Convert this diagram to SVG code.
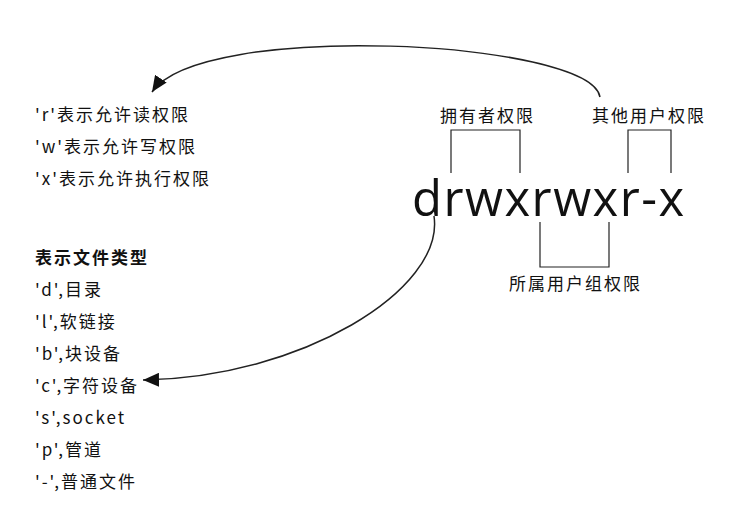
<svg xmlns="http://www.w3.org/2000/svg" width="741" height="521" viewBox="0 0 741 521">
<style>
.t{font-family:"Noto Sans CJK SC","Noto Sans",sans-serif;font-size:17px;letter-spacing:2px;fill:#111}
.b{font-weight:bold}
.big{font-family:"Open Sans","Noto Sans",sans-serif;font-size:49px;letter-spacing:1.5px;fill:#111}
.br{fill:none;stroke:#222;stroke-width:1.2}
.c{fill:none;stroke:#222;stroke-width:1.5}
</style>
<defs>
<marker id="ah" markerUnits="userSpaceOnUse" markerWidth="18" markerHeight="14" refX="16" refY="7" orient="auto">
<path d="M0,0 L16,7 L0,14 Z" fill="#111"/>
</marker>
</defs>
<rect width="741" height="521" fill="#fff"/>
<g id="perm-legend">
<text class="t" x="35" y="121">'r'表示允许读权限</text>
<text class="t" x="35" y="153">'w'表示允许写权限</text>
<text class="t" x="35" y="185">'x'表示允许执行权限</text>
</g>
<g id="type-legend">
<text class="t b" x="35" y="264">表示文件类型</text>
<text class="t" x="35" y="296">'d',目录</text>
<text class="t" x="35" y="328">'l',软链接</text>
<text class="t" x="35" y="360">'b',块设备</text>
<text class="t" x="35" y="392">'c',字符设备</text>
<text class="t" x="35" y="424">'s',socket</text>
<text class="t" x="35" y="456">'p',管道</text>
<text class="t" x="35" y="488">'-',普通文件</text>
</g>
<g id="perm-string">
<text class="big" x="412" y="216">drwxrwxr-x</text>
</g>
<g id="owner">
<text class="t" x="440" y="122">拥有者权限</text>
<path class="br" d="M451,173 V130 H520 V173"/>
</g>
<g id="others">
<text class="t" x="592" y="122">其他用户权限</text>
<path class="br" d="M628,173 V130 H671 V173"/>
</g>
<g id="group">
<path class="br" d="M540,222 V267 H609 V222"/>
<text class="t" x="509" y="290">所属用户组权限</text>
</g>
<g id="connectors">
<path class="c" d="M600,97 C590,40 200,20 152,92" marker-end="url(#ah)"/>
<path class="c" d="M434,216 C445,290 300,378 143,380" marker-end="url(#ah)"/>
</g>
</svg>
